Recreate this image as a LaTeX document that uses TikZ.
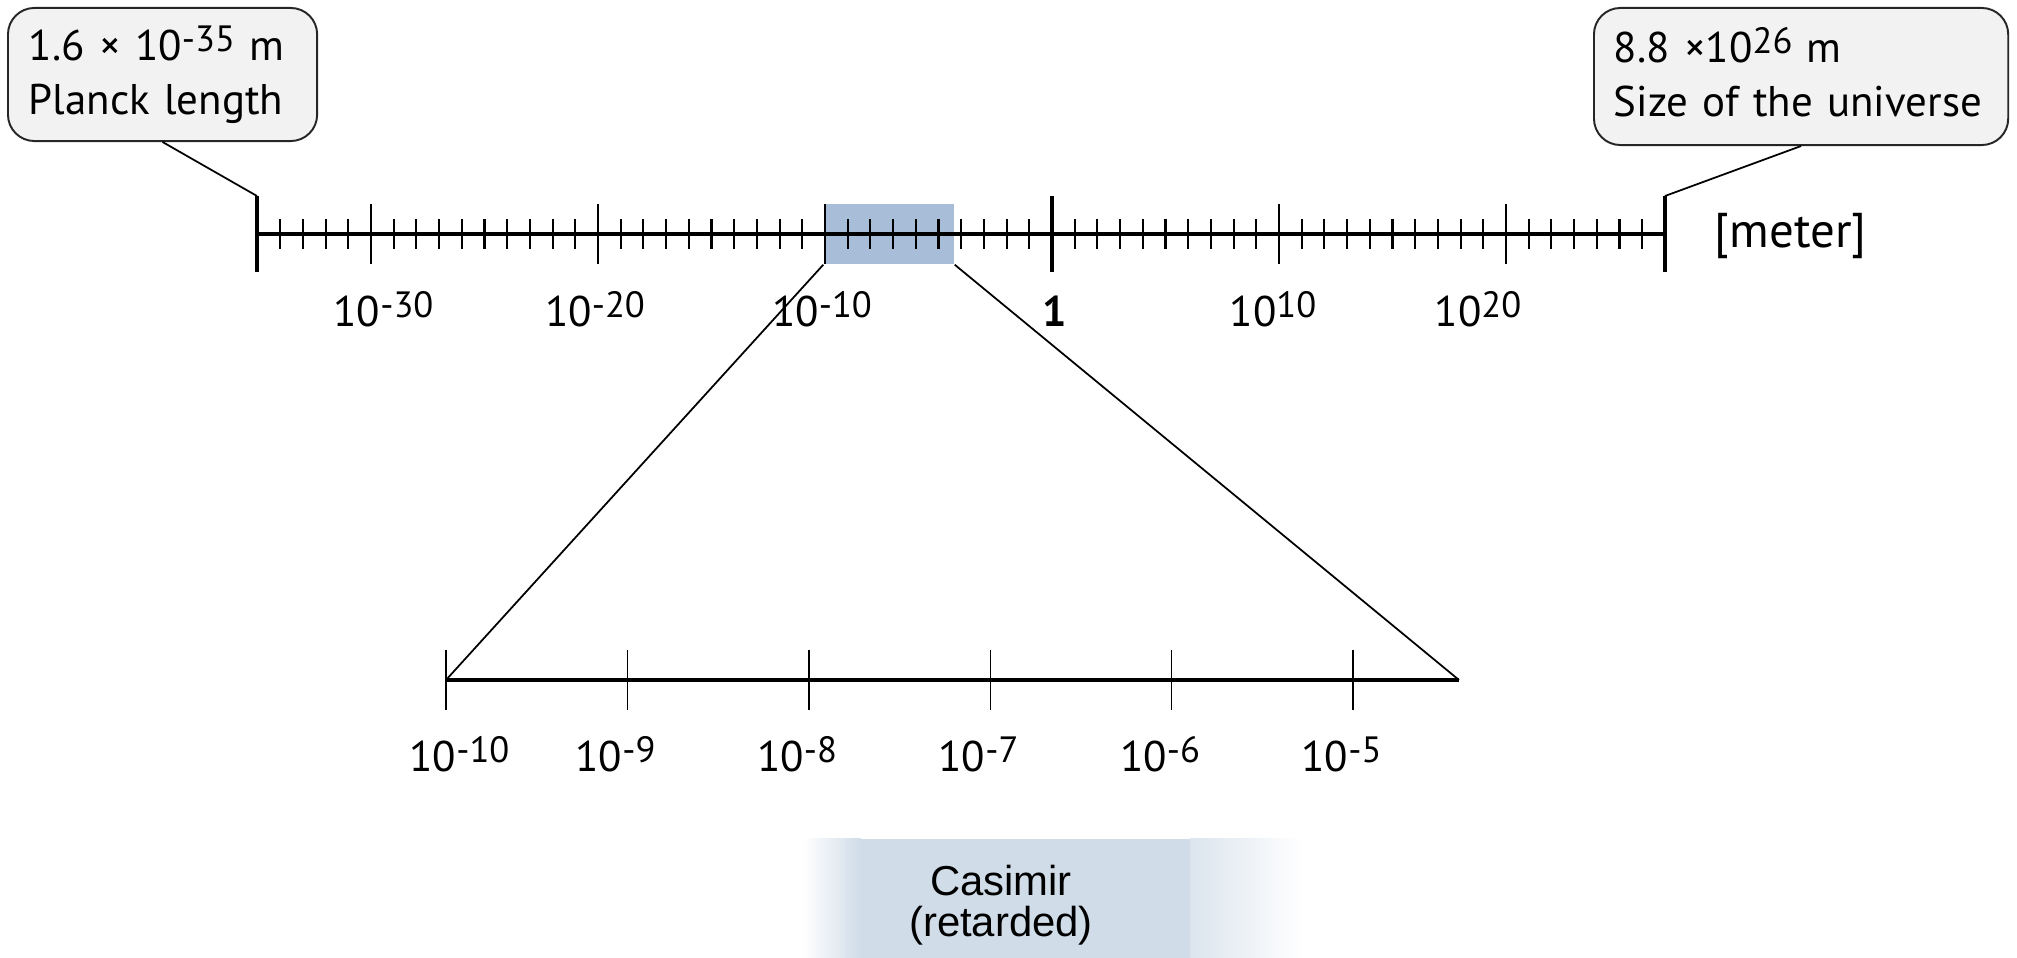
\documentclass[tikz,border=0pt]{standalone}
\usepackage{fontspec}
\setmainfont{PT Sans}
\newfontfamily\casfont{Liberation Sans}
\usepackage{tikz}
\usetikzlibrary{positioning,fit}
\definecolor{zblue}{HTML}{A7BDD8}
\definecolor{cfill}{HTML}{F2F2F2}
\definecolor{cblue}{HTML}{D0DCE8}
\newcommand{\lblfont}{\fontsize{12.2}{15.4}\selectfont}
\newcommand{\pw}[1]{\raisebox{2.6pt}{\fontsize{10.4}{11}\selectfont #1}}
\tikzset{
  callout/.style={draw=black!85,fill=cfill,rounded corners=7.5pt,line width=0.55pt,align=left,font=\lblfont,inner xsep=0.21cm,inner ysep=0pt},
  lead/.style={line width=0.5pt},
  axisline/.style={line width=1.1pt},
  minortick/.style={line width=0.6pt},
  midtick/.style={line width=0.4pt},
  endtick/.style={line width=1.15pt},
  zbox/.style={fill=zblue,draw=none,inner sep=0pt},
  zoomline/.style={line width=0.5pt},
  zaxis/.style={line width=0.95pt},
  ztick/.style={line width=0.4pt},
  lbl/.style={font=\lblfont,inner sep=0pt,anchor=base},
  unitlbl/.style={font=\fontsize{13.9}{16}\selectfont,inner sep=0pt,anchor=base west},
  casimir/.style={font=\casfont\fontsize{11.9}{11.7}\selectfont,align=center,inner sep=0pt},
}

\begin{document}
\begin{tikzpicture}[x=0.01cm,y=-0.01cm]
  \useasboundingbox (0,0) rectangle (2017,958);
  % zoomed part of the big scale
  \coordinate (za) at (824,204);
  \coordinate (zb) at (954,264);
  \node[zbox,fit=(za)(zb)] (zoom) {};
  % big scale, one tick per decade
  \coordinate (la) at (257,234);
  \coordinate (ra) at (1665,234);
  \coordinate (lt) at (257,196);
  \coordinate (lb) at (257,272);
  \coordinate (rt) at (1665,196);
  \coordinate (rb) at (1665,272);
  \coordinate (ot) at (1052,196);
  \coordinate (ob) at (1052,272);
  \draw[axisline] (la) -- (ra);
  \foreach \d in {-34,...,26}{
    \ifnum\numexpr\d-(\d/10)*10\relax=0 \else
      \draw[minortick] ({1052+22.7*\d},219) -- ++(0,30);
    \fi
  }
  \foreach \d in {-30,-20,-10,10,20} \draw[midtick] ({1052+22.7*\d},204) -- ++(0,60);
  \draw[endtick] (lt) -- (lb);
  \draw[endtick] (rt) -- (rb);
  \draw[endtick] (ot) -- (ob);
  \node[unitlbl] (unit) at (1714,248) {[meter]};
  \foreach \x/\t [count=\i] in {383.5/{10\pw{-30}},595/{10\pw{-20}},822/{10\pw{-10}},1055/{\textbf{1}},1273/{10\pw{10}},1478/{10\pw{20}}}
    \node[lbl] (top\i) at (\x,327) {\t};
  % the two ends
  \node[callout,text width=2.67cm,minimum height=1.33cm,anchor=north west] (planck) at (7,7) {1.6 × 10\pw{-35} m\\Planck length};
  \node[callout,text width=3.74cm,inner xsep=0.2cm,minimum height=1.37cm,anchor=north west] (univ) at (1593,7) {8.8 ×10\pw{26} m\\Size of the universe\vphantom{g}};
  \draw[lead] (planck.south) -- (lt);
  \draw[lead] (univ.south) -- (rt);
  % zoomed scale
  \coordinate (zl) at (446,680);
  \coordinate (zr) at (1459,680);
  \draw[zaxis] (zl) -- (zr);
  \foreach \k in {0,...,5} \draw[ztick] ({446+181.4*\k},650) -- ++(0,60);
  \foreach \x/\t [count=\i] in {459.5/-10,615.5/-9,797/-8,978.5/-7,1160/-6,1341.5/-5}
    \node[lbl] (bot\i) at (\x,772) {10\pw{\t}};
  \draw[zoomline] (zoom.south west) -- (zl);
  \draw[zoomline] (zoom.south east) -- (zr);
  % Casimir range
  \fill[cblue] (861,839) rectangle (1190,958);
  \shade[left color=white,right color=cblue] (803,839) rectangle (861,958);
  \shade[left color=cblue!75,right color=white] (1190,839) rectangle (1303,958);
  \node[casimir] (cas) at (1001,905) {Casimir\\(retarded)};
\end{tikzpicture}
\end{document}
